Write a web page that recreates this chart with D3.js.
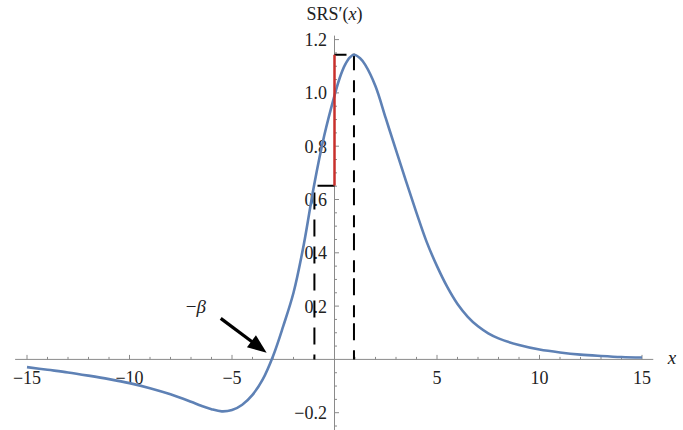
<!DOCTYPE html>
<html>
<head>
<meta charset="utf-8">
<script src="https://cdn.jsdelivr.net/npm/d3@7"></script>
<style>
  body { margin: 0; background: #fff; }
</style>
</head>
<body>
<div id="chart"></div>
<script>
// curve samples
var xVals = [-15, -14, -13, -12, -11, -10, -9, -8, -7, -6.5, -6, -5.5, -5, -4.5, -4, -3.5, -3,
  -2.5, -2, -1.5, -1, -0.5, 0, 0.25, 0.5, 0.75, 0.95, 1.25, 1.5, 2, 2.5, 3, 3.5, 4, 4.5, 5,
  5.5, 6, 6.5, 7, 7.5, 8, 9, 10, 11, 12, 13, 14, 15];
var yVals = [-0.029, -0.039, -0.049, -0.061, -0.074, -0.089, -0.108, -0.131, -0.159, -0.174,
  -0.187, -0.195, -0.19, -0.17, -0.133, -0.075, 0.012, 0.125, 0.25, 0.43, 0.652, 0.84, 0.99,
  1.055, 1.103, 1.133, 1.143, 1.13, 1.105, 1.025, 0.905, 0.785, 0.666, 0.55, 0.44, 0.35,
  0.272, 0.208, 0.16, 0.124, 0.098, 0.079, 0.054, 0.037, 0.026, 0.018, 0.013, 0.009, 0.007];

var xMajor = [-15, -10, -5, 5, 10, 15];
var xMajorLabels = ["\u221215", "\u221210", "\u22125", "5", "10", "15"];
var yMajor = [-0.2, 0.2, 0.4, 0.6, 0.8, 1.0, 1.2];
var yMajorLabels = ["\u22120.2", "0.2", "0.4", "0.6", "0.8", "1.0", "1.2"];

var peak = {x: 0.95, y: 1.143};
var lowMark = {x: -0.98, y: 0.652};
var arrowFrom = {x: -5.55, y: 0.154}, arrowTo = {x: -3.31, y: 0.025};
var betaLabel = {x: -6.76, y: 0.174};

var W = 683, H = 430;
var serif = "'Liberation Serif', Tinos, 'Times New Roman', Times, 'DejaVu Serif', serif";
var svg = d3.select("#chart").append("svg")
  .attr("width", W).attr("height", H)
  .style("font-family", serif);

var x = d3.scaleLinear().domain([-15, 15]).range([27, 642]);
var y = d3.scaleLinear().domain([0, 1.2]).range([359.4, 39.6]);

var axisColor = "#8a8a8a";
var textColor = "#222";

// axes lines
svg.append("line")
  .attr("x1", x(-15.58)).attr("x2", x(15.55))
  .attr("y1", y(0)).attr("y2", y(0))
  .attr("stroke", axisColor).attr("stroke-width", 1);
svg.append("line")
  .attr("x1", x(0)).attr("x2", x(0))
  .attr("y1", y(1.215)).attr("y2", H)
  .attr("stroke", axisColor).attr("stroke-width", 1);

// x ticks
var xMinor = d3.range(-15, 16, 1).filter(function(d) { return d !== 0; });
svg.append("g").selectAll("line").data(xMinor).enter().append("line")
  .attr("x1", function(d) { return x(d); })
  .attr("x2", function(d) { return x(d); })
  .attr("y1", y(0))
  .attr("y2", function(d) { return y(0) - (d % 5 === 0 ? 4.5 : 2.5); })
  .attr("stroke", axisColor).attr("stroke-width", 1);
svg.append("g").selectAll("text").data(xMajor).enter().append("text")
  .attr("x", function(d) { return x(d); })
  .attr("y", y(0) + 24.5)
  .attr("text-anchor", "middle")
  .style("font-family", serif)
  .attr("font-size", 18)
  .attr("fill", textColor)
  .text(function(d, i) { return xMajorLabels[i]; });

// y ticks
var yMinor = d3.range(-5, 25, 1).map(function(d) { return d * 0.05; })
  .filter(function(d) { return Math.abs(d) > 1e-9; });
svg.append("g").selectAll("line").data(yMinor).enter().append("line")
  .attr("x1", x(0))
  .attr("x2", function(d) {
    var maj = Math.abs(Math.round(d * 5) - d * 5) < 1e-6;
    return x(0) + (maj ? 4.5 : 2.5);
  })
  .attr("y1", function(d) { return y(d); })
  .attr("y2", function(d) { return y(d); })
  .attr("stroke", axisColor).attr("stroke-width", 1);
svg.append("g").selectAll("text").data(yMajor).enter().append("text")
  .attr("x", x(0) - 7.5)
  .attr("y", function(d) { return y(d) + 6.5; })
  .attr("text-anchor", "end")
  .style("font-family", serif)
  .attr("font-size", 18)
  .attr("fill", textColor)
  .text(function(d, i) { return yMajorLabels[i]; });

// axis labels
svg.append("text")
  .attr("x", 672).attr("y", y(0) + 5)
  .attr("text-anchor", "middle")
  .style("font-family", serif)
  .attr("font-size", 19)
  .attr("font-style", "italic")
  .attr("fill", textColor)
  .text("x");
var yl = svg.append("text")
  .attr("x", x(0)).attr("y", 20)
  .attr("text-anchor", "middle")
  .style("font-family", serif)
  .attr("font-size", 18)
  .attr("fill", textColor);
yl.append("tspan").text("SRS\u2032(");
yl.append("tspan").attr("font-style", "italic").text("x");
yl.append("tspan").text(")");

// dashed guide lines
svg.append("path")
  .attr("d", d3.line()([[x(0), y(peak.y)], [x(peak.x), y(peak.y)], [x(peak.x), y(0)]]))
  .attr("fill", "none").attr("stroke", "#000").attr("stroke-width", 2)
  .attr("stroke-dasharray", "12,6,17,10");
svg.append("path")
  .attr("d", d3.line()([[x(0), y(lowMark.y)], [x(lowMark.x), y(lowMark.y)], [x(lowMark.x), y(0)]]))
  .attr("fill", "none").attr("stroke", "#000").attr("stroke-width", 2)
  .attr("stroke-dasharray", "17,10");

// the curve
var pts = xVals.map(function(d, i) { return [d, yVals[i]]; });
svg.append("path")
  .datum(pts)
  .attr("fill", "none")
  .attr("stroke", "#5E81B5")
  .attr("stroke-width", 2.6)
  .attr("d", d3.line()
    .curve(d3.curveCatmullRom.alpha(0.5))
    .x(function(d) { return x(d[0]); })
    .y(function(d) { return y(d[1]); }));

// red segment
svg.append("line")
  .attr("x1", x(0)).attr("x2", x(0))
  .attr("y1", y(lowMark.y)).attr("y2", y(peak.y))
  .attr("stroke", "#C8302C").attr("stroke-width", 2.5);

// arrow for -beta
var ax0 = x(arrowFrom.x), ay0 = y(arrowFrom.y), ax1 = x(arrowTo.x), ay1 = y(arrowTo.y);
var ang = Math.atan2(ay1 - ay0, ax1 - ax0);
var headLen = 19, headW = 7.5;
var bx = ax1 - headLen * Math.cos(ang), by = ay1 - headLen * Math.sin(ang);
svg.append("line")
  .attr("x1", ax0).attr("y1", ay0).attr("x2", bx + 2 * Math.cos(ang)).attr("y2", by + 2 * Math.sin(ang))
  .attr("stroke", "#000").attr("stroke-width", 3.2);
svg.append("path")
  .attr("d", "M" + ax1 + "," + ay1 +
    "L" + (bx + headW * Math.sin(ang)) + "," + (by - headW * Math.cos(ang)) +
    "L" + (bx - headW * Math.sin(ang)) + "," + (by + headW * Math.cos(ang)) + "Z")
  .attr("fill", "#000");
var bl = svg.append("text")
  .attr("x", x(betaLabel.x)).attr("y", y(betaLabel.y))
  .attr("text-anchor", "middle")
  .style("font-family", serif)
  .attr("font-size", 19)
  .attr("fill", textColor);
bl.append("tspan").text("\u2212");
bl.append("tspan").attr("font-style", "italic").text("\u03B2");
</script>
</body>
</html>
